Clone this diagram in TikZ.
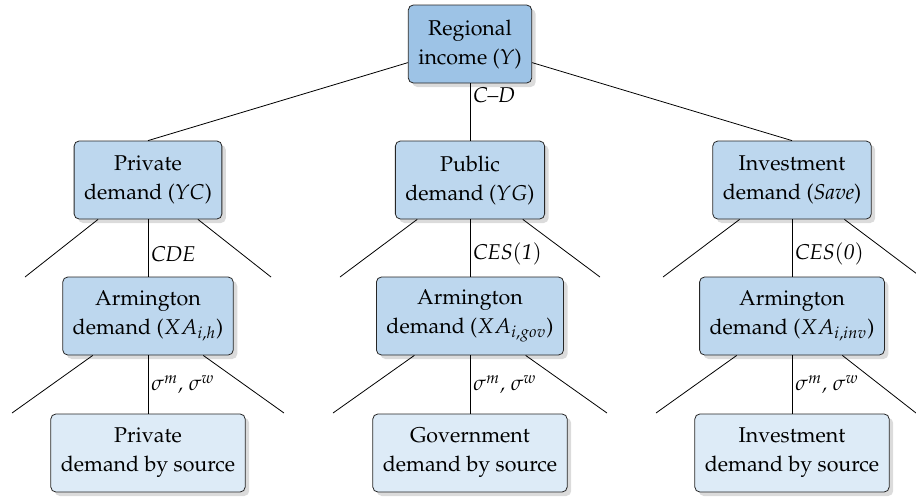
\documentclass[tikz,border=0pt]{standalone}
\usepackage[T1]{fontenc}
\usepackage{mathpazo}
\usetikzlibrary{shadows}
\definecolor{topblue}{RGB}{157,195,230}
\definecolor{midblue}{RGB}{189,215,238}
\definecolor{lowblue}{RGB}{221,235,247}

\begin{document}
\begin{tikzpicture}[x=0.5pt, y=-0.5pt]
  \tikzset{every node/.style={font=\fontsize{10.7}{14.5}\selectfont},
           box/.style={draw=black!85, rounded corners=2.5pt, align=center,
                       inner xsep=5pt, minimum height=39pt, fill=midblue,
                       drop shadow={shadow xshift=2pt, shadow yshift=-2pt, fill=black!28}},
           topbox/.style={box, fill=topblue},
           srcbox/.style={box, fill=lowblue},
           lab/.style={right, inner sep=1.5pt, font=\fontsize{10.7}{14.5}\selectfont\itshape}}
  \useasboundingbox (0,0) rectangle (916,500);
  \node[topbox] (inc) at (470,44) {Regional\\income ($Y$)};
  \node[box] (priv) at (148,180) {Private\\demand ($YC$)};
  \node[box] (pub) at (470,180) {Public\\demand ($YG$)};
  \node[box] (inv) at (792,180) {Investment\\demand (\textit{Save})};
  \node[box] (armh) at (148,316) {Armington\\demand ($XA_{i,h}$)};
  \node[box] (armg) at (470,316) {Armington\\demand ($XA_{i,gov}$)};
  \node[box] (armi) at (792,316) {Armington\\demand ($XA_{i,inv}$)};
  \node[srcbox] (srch) at (148,453) {Private\\demand by source};
  \node[srcbox] (srcg) at (470,453) {Government\\demand by source};
  \node[srcbox] (srci) at (792,453) {Investment\\demand by source};

  \draw (inc) -- (priv.north);
  \draw (inc) -- node[lab, pos=0.2] {C--D} (pub.north);
  \draw (inc) -- (inv.north);
  \draw (priv) -- node[lab, pos=0.6] {CDE} (armh);
  \draw (pub) -- node[lab, pos=0.6] {$\mathit{CES}(\mathit{1})$} (armg);
  \draw (inv) -- node[lab, pos=0.6] {$\mathit{CES}(\mathit{0})$} (armi);
  \draw (armh) -- node[lab, midway] {$\sigma^m$, $\sigma^w$} (srch);
  \draw (armg) -- node[lab, midway] {$\sigma^m$, $\sigma^w$} (srcg);
  \draw (armi) -- node[lab, midway] {$\sigma^m$, $\sigma^w$} (srci);

  \foreach \n/\l/\r/\y in {priv/25/271/277, pub/340/600/277, inv/663/921/277,
                           armh/12/284/413, armg/333/607/413, armi/656/916/413} {
    \coordinate (\n-l) at (\l,\y);
    \coordinate (\n-r) at (\r,\y);
    \draw (\n-l) -- (\n);
    \draw (\n) -- (\n-r);
  }
\end{tikzpicture}
\end{document}
